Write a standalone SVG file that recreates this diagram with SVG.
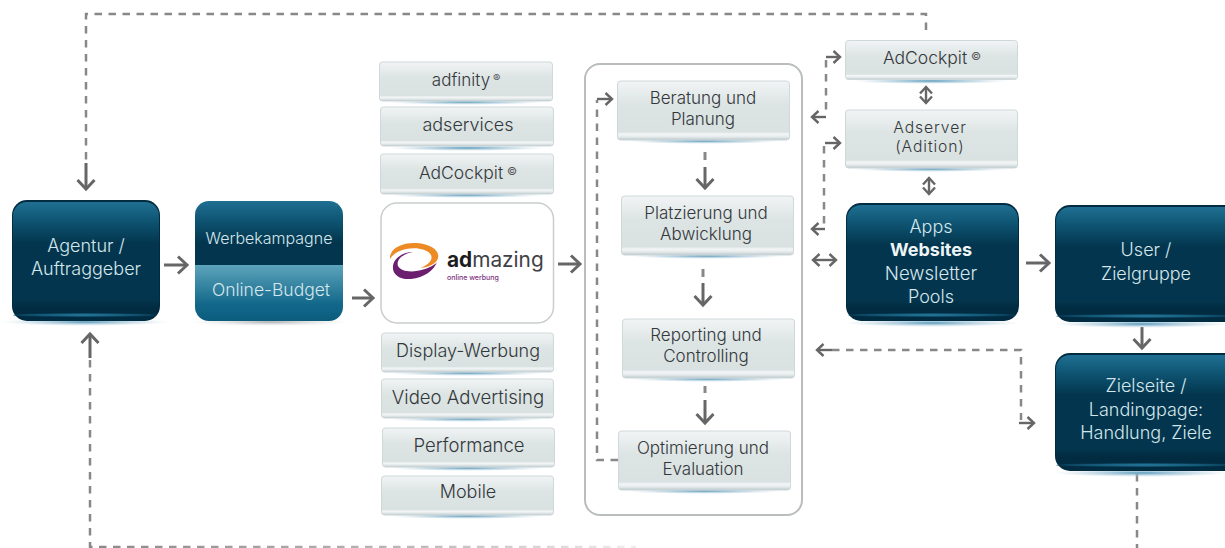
<svg xmlns="http://www.w3.org/2000/svg" width="1225" height="548" viewBox="0 0 1225 548">
<defs>
<linearGradient id="dark" x1="0" y1="0" x2="0" y2="1"><stop offset="0" stop-color="#1f6f92"/><stop offset="0.16" stop-color="#0f5573"/><stop offset="0.36" stop-color="#03364e"/><stop offset="0.85" stop-color="#03364e"/><stop offset="0.93" stop-color="#012b40"/><stop offset="1" stop-color="#012b40"/></linearGradient>
<linearGradient id="top" x1="0" y1="0" x2="0" y2="1"><stop offset="0" stop-color="#1f6f92"/><stop offset="0.3" stop-color="#0f5573"/><stop offset="0.65" stop-color="#03364e"/><stop offset="1" stop-color="#03364e"/></linearGradient>
<linearGradient id="teal" x1="0" y1="0" x2="0" y2="1"><stop offset="0" stop-color="#5da4bd"/><stop offset="0.3" stop-color="#3d8aa6"/><stop offset="0.7" stop-color="#12688a"/><stop offset="1" stop-color="#0b5c7c"/></linearGradient>
<linearGradient id="light" x1="0" y1="0" x2="0" y2="1"><stop offset="0" stop-color="#f1f4f4"/><stop offset="0.4" stop-color="#dde4e4"/><stop offset="0.86" stop-color="#d9e1e1"/><stop offset="0.9" stop-color="#f4f6f6"/><stop offset="0.95" stop-color="#e4e9ea"/><stop offset="1" stop-color="#b9c6cb"/></linearGradient>
<radialGradient id="glow" cx="0.5" cy="0.5" r="0.5"><stop offset="0" stop-color="#4f94b8" stop-opacity="0.95"/><stop offset="0.6" stop-color="#9fc3d6" stop-opacity="0.5"/><stop offset="1" stop-color="#cfe0e8" stop-opacity="0"/></radialGradient>
<radialGradient id="shade" cx="0.5" cy="0.5" r="0.5"><stop offset="0" stop-color="#8a8f92" stop-opacity="0.7"/><stop offset="1" stop-color="#c8cccd" stop-opacity="0"/></radialGradient>
<radialGradient id="band" cx="0.5" cy="0.5" r="0.5"><stop offset="0" stop-color="#2a7fa5"/><stop offset="0.7" stop-color="#125473"/><stop offset="1" stop-color="#063a53"/></radialGradient>
<linearGradient id="fade" gradientUnits="userSpaceOnUse" x1="90" y1="0" x2="640" y2="0"><stop offset="0" stop-color="#888"/><stop offset="0.6" stop-color="#bbb"/><stop offset="1" stop-color="#eee"/></linearGradient>
<marker id="ah" markerUnits="userSpaceOnUse" markerWidth="20" markerHeight="20" refX="12" refY="10" orient="auto-start-reverse"><path d="M3 1.5 L12 10 L3 18.500" fill="none" stroke="#666" stroke-width="3"/></marker>
<marker id="as" markerUnits="userSpaceOnUse" markerWidth="16" markerHeight="16" refX="10" refY="8" orient="auto-start-reverse"><path d="M3.500 2 L10 8 L3.500 14" fill="none" stroke="#666" stroke-width="2.400"/></marker>
</defs>
<style>
text{font-family:Inter,"Liberation Sans",sans-serif;font-weight:300;text-anchor:middle}
.d{fill:#d5e6ec;font-size:18px}
.l{fill:#33383b;font-size:18px}
.p{fill:#33383b;font-size:17px}
.sup{font-size:11px;fill:#555;font-weight:400;text-anchor:start}
.lb{fill:url(#light);stroke:#cfd8da;stroke-width:1}
.gl{fill:url(#glow)}
.dash{fill:none;stroke:#888;stroke-width:2.500;stroke-dasharray:7.500 6.500}
.a{fill:none;stroke:#666;stroke-width:3;marker-end:url(#ah)}
.s{fill:none;stroke:#666;stroke-width:2.400;marker-end:url(#as)}
.b{fill:none;stroke:#666;stroke-width:2.400;marker-end:url(#as);marker-start:url(#as)}
</style>
<rect width="1225" height="548" fill="#fff"/>

<g id="container"><rect x="585" y="64" width="217" height="451" rx="15" fill="#fff" stroke="#b9bdbe" stroke-width="2"/></g>

<g id="connectors">
<path class="dash" d="M926 30V14H86V163"/>
<path class="a" d="M86 163V189"/>
<path class="dash" d="M90 360V547H636" style="stroke:url(#fade)"/>
<path class="a" d="M90 358V334"/>
<path class="dash" d="M1137 474V548"/>
<path class="a" d="M164 265H187"/>
<path class="a" d="M352 298H373"/>
<path class="a" d="M558 264H580"/>
<path class="dash" d="M618 460H597V100"/>
<path class="s" d="M597 99H612"/>
<path class="dash" d="M705 152V160" style="stroke-dasharray:none;stroke-width:3"/>
<path class="a" d="M705 167V188"/>
<path class="dash" d="M703 269V277" style="stroke-dasharray:none;stroke-width:3"/>
<path class="a" d="M703 283V305"/>
<path class="dash" d="M705 386V393" style="stroke-dasharray:none;stroke-width:3"/>
<path class="a" d="M705 400V423"/>
<path class="dash" d="M826 60V115"/>
<path class="s" d="M826 57H840"/>
<path class="s" d="M826 117H812"/>
<path class="dash" d="M824 146V227"/>
<path class="s" d="M825 143H840"/>
<path class="s" d="M825 229H812"/>
<path class="b" d="M813 260H836"/>
<path class="b" d="M926 87V103"/>
<path class="b" d="M929 178V194"/>
<path class="a" d="M1026 263H1049"/>
<path class="a" d="M1142 327V348"/>
<path class="dash" d="M832 350H1021V420"/>
<path class="s" d="M832 350H817"/>
<path class="s" d="M1019 423H1034"/>
</g>

<g id="agentur">
<ellipse class="gl" cx="85" cy="322" rx="85" ry="4"/>
<rect x="12" y="200" width="148" height="121" rx="15" fill="#012b40"/>
<rect x="13" y="202" width="146" height="114" rx="14" fill="url(#dark)"/>
<ellipse cx="85" cy="315" rx="72" ry="2" fill="url(#band)"/>
<text class="d" x="86" y="252">Agentur /</text><text class="d" x="86" y="275">Auftraggeber</text>
</g>
<g id="budget">
<ellipse cx="270" cy="322" rx="80" ry="4" fill="url(#shade)"/>
<path d="M195 265V215a14 14 0 0 1 14-14H329a14 14 0 0 1 14 14V265Z" fill="url(#top)"/>
<path d="M195 265H343V307a14 14 0 0 1-14 14H209a14 14 0 0 1-14-14Z" fill="url(#teal)"/>
<text class="d" x="269" y="244" style="font-size:16px">Werbekampagne</text>
<text class="d" x="271" y="296" style="font-size:17.500px">Online-Budget</text>
</g>

<g id="adfinity"><ellipse class="gl" cx="466" cy="102" rx="80" ry="3"/><rect class="lb" x="379.500" y="62" width="173" height="39" rx="3"/><text class="l" x="461" y="86" style="font-size:17px">adfinity</text><text class="sup" x="493" y="82">®</text></g>
<g id="adservices"><ellipse class="gl" cx="467" cy="148" rx="80" ry="3"/><rect class="lb" x="380.500" y="107" width="173" height="39" rx="3"/><text class="l" x="468" y="131">adservices</text></g>
<g id="adcockpit1"><ellipse class="gl" cx="467" cy="195" rx="80" ry="3"/><rect class="lb" x="380.500" y="154" width="173" height="40" rx="3"/><text class="l" x="461" y="179" style="font-size:17.500px">AdCockpit</text><text class="sup" x="507" y="175">©</text></g>

<g id="admazing">
<rect x="381" y="203" width="172.500" height="120" rx="16" fill="#fff" stroke="#c9cdce" stroke-width="1.500"/>
<path d="M390 259C389 248 403 242 417 243C430 244 440 250 438 258C437 263 430 267 421 268C429 264 433 260 431 255C428 249 416 247 406 249C398 251 393 254 390 259Z" fill="#ee8a24"/>
<path d="M413 252C402 254 396 260 398 266C401 272 413 273 425 269C431 267 436 264 437 262C434 270 424 278 411 279C399 280 392 274 393 266C394 258 403 252 413 252Z" fill="#6b1f6e"/>
<text x="447" y="267" style="text-anchor:start;font-size:20.800px;font-weight:400;fill:#3f4245"><tspan fill="#1d1d1f" style="font-weight:700">ad</tspan>mazing</text>
<text x="447" y="280" style="text-anchor:start;font-size:7px;font-weight:500;fill:#7a2f7d">online werbung</text>
</g>

<g id="display"><ellipse class="gl" cx="467" cy="373" rx="80" ry="3"/><rect class="lb" x="381.500" y="333" width="172" height="39" rx="3"/><text class="l" x="468" y="357">Display-Werbung</text></g>
<g id="video"><ellipse class="gl" cx="467" cy="419" rx="80" ry="3"/><rect class="lb" x="381.500" y="379" width="172" height="39" rx="3"/><text class="l" x="468" y="404" style="font-size:18.600px">Video Advertising</text></g>
<g id="performance"><ellipse class="gl" cx="468" cy="468" rx="80" ry="3"/><rect class="lb" x="382.500" y="428" width="172" height="39" rx="3"/><text class="l" x="469" y="452" style="font-size:18.500px">Performance</text></g>
<g id="mobile"><ellipse class="gl" cx="467" cy="516" rx="80" ry="3"/><rect class="lb" x="381.500" y="476" width="172" height="39" rx="3"/><text class="l" x="468" y="498">Mobile</text></g>

<g id="beratung"><ellipse class="gl" cx="704" cy="141" rx="80" ry="3"/><rect class="lb" x="617.500" y="81" width="172" height="59" rx="3"/><text class="p" x="703" y="104">Beratung und</text><text class="p" x="703" y="125">Planung</text></g>
<g id="platzierung"><ellipse class="gl" cx="707" cy="256" rx="80" ry="3"/><rect class="lb" x="621.500" y="196" width="172" height="59" rx="3"/><text class="p" x="706" y="219">Platzierung und</text><text class="p" x="706" y="240">Abwicklung</text></g>
<g id="reporting"><ellipse class="gl" cx="708" cy="379" rx="80" ry="3"/><rect class="lb" x="622.500" y="319" width="172" height="59" rx="3"/><text class="p" x="706" y="341">Reporting und</text><text class="p" x="706" y="362">Controlling</text></g>
<g id="optimierung"><ellipse class="gl" cx="704" cy="491" rx="80" ry="3"/><rect class="lb" x="618.500" y="431" width="172" height="59" rx="3"/><text class="p" x="703" y="454">Optimierung und</text><text class="p" x="703" y="475">Evaluation</text></g>

<g id="adcockpit2"><ellipse class="gl" cx="931" cy="81" rx="80" ry="3"/><rect class="lb" x="845.500" y="40.500" width="172" height="39" rx="3"/><text class="l" x="925" y="64" style="font-size:17.500px">AdCockpit</text><text class="sup" x="971" y="60">©</text></g>
<g id="adserver"><ellipse class="gl" cx="931" cy="169" rx="80" ry="3"/><rect class="lb" x="845.500" y="110" width="172" height="58" rx="3"/><text class="p" x="930" y="133" style="font-size:15.700px;letter-spacing:.9px">Adserver</text><text class="p" x="930" y="152" style="font-size:15.700px;letter-spacing:.9px">(Adition)</text></g>

<g id="apps">
<ellipse class="gl" cx="932" cy="323" rx="90" ry="4"/>
<rect x="846" y="203" width="173" height="118" rx="15" fill="#012b40"/>
<rect x="847" y="205" width="171" height="111" rx="14" fill="url(#dark)"/>
<ellipse cx="932" cy="315" rx="84" ry="2" fill="url(#band)"/>
<text class="d" x="931" y="233">Apps</text><text class="d" x="931" y="256" style="font-weight:700;fill:#eef5f7">Websites</text><text class="d" x="931" y="280" style="font-size:18.600px">Newsletter</text><text class="d" x="931" y="303">Pools</text>
</g>
<g id="user">
<ellipse class="gl" cx="1142" cy="324" rx="90" ry="4"/>
<rect x="1055" y="205" width="185" height="117" rx="15" fill="#012b40"/>
<rect x="1056" y="207" width="183" height="110" rx="14" fill="url(#dark)"/>
<ellipse cx="1146" cy="316" rx="90" ry="2" fill="url(#band)"/>
<text class="d" x="1146" y="256">User /</text><text class="d" x="1146" y="280">Zielgruppe</text>
</g>
<g id="zielseite">
<ellipse class="gl" cx="1142" cy="473" rx="90" ry="4"/>
<rect x="1055" y="353" width="185" height="118" rx="15" fill="#012b40"/>
<rect x="1056" y="355" width="183" height="110" rx="14" fill="url(#dark)"/>
<ellipse cx="1146" cy="465" rx="90" ry="2" fill="url(#band)"/>
<text class="d" x="1146" y="392">Zielseite /</text><text class="d" x="1146" y="416">Landingpage:</text><text class="d" x="1146" y="439">Handlung, Ziele</text>
</g>
</svg>
